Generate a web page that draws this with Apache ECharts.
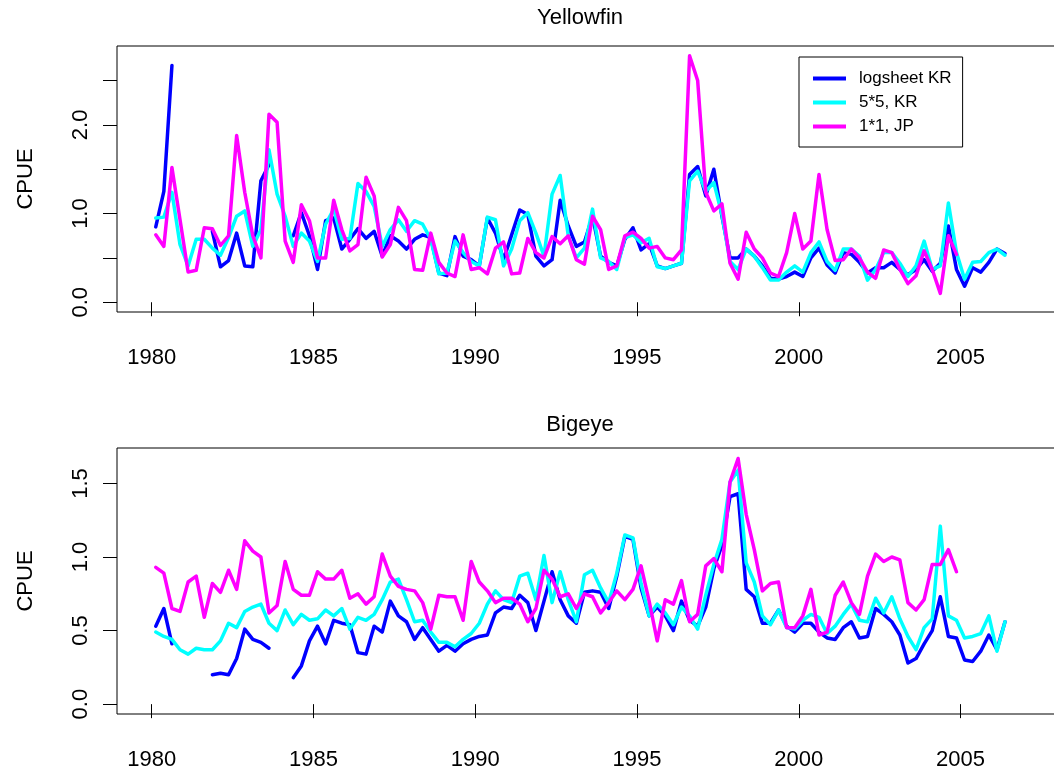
<!DOCTYPE html>
<html><head><meta charset="utf-8">
<script src="https://cdn.jsdelivr.net/npm/echarts@6/dist/echarts.min.js"></script>
<style>html,body{margin:0;padding:0;background:#fff;overflow:hidden;width:1054px;height:771px}#c{width:1200px;height:771px}</style>
</head><body><div id="c"></div><script>
// quarterly time index, 1980 Q1 .. 2006 Q2
const startYear = 1980, nQuarters = 106;
const xTicks = [1980, 1985, 1990, 1995, 2000, 2005];
const yTicksYF = [0, 0.5, 1, 1.5, 2, 2.5];
const yLabelsYF = [0, 1, 2];
const yTicksBE = [0, 0.5, 1, 1.5];
const yLabelsBE = [0, 0.5, 1, 1.5];
const seriesNames = ['logsheet KR', '5*5, KR', '1*1, JP'];
const colors = ['#0000ff', '#00ffff', '#ff00ff'];

// Yellowfin
const yfLogsheet = [0.85,1.25,2.67,null,null,null,null,0.80,0.40,0.47,
 0.78,0.41,0.40,1.37,1.55,null,null,0.75,1.01,0.75,
 0.37,0.92,0.95,0.60,0.71,0.83,0.72,0.80,0.52,0.75,
 0.69,0.60,0.71,0.76,0.73,0.33,0.30,0.74,0.52,0.48,
 0.41,0.95,0.78,0.48,0.76,1.04,0.99,0.52,0.41,0.48,
 1.15,0.86,0.63,0.68,0.97,0.52,0.45,0.41,0.71,0.84,
 0.59,0.66,0.41,0.38,0.41,0.44,1.44,1.53,1.20,1.50,
 0.97,0.50,0.50,0.60,0.52,0.41,0.27,0.26,0.29,0.34,
 0.29,0.50,0.61,0.42,0.33,0.56,0.54,0.45,0.33,0.39,
 0.39,0.45,0.37,0.31,0.37,0.48,0.35,0.44,0.86,0.37,
 0.18,0.39,0.34,0.45,0.60,0.55];
const yfGrid5KR = [0.95,0.96,1.24,0.65,0.41,0.71,0.71,0.61,0.53,0.73,
 0.97,1.03,0.63,0.82,1.72,1.22,0.97,0.63,0.78,0.69,
 0.46,0.88,1.05,0.71,0.72,1.34,1.25,1.08,0.63,0.82,
 0.93,0.80,0.92,0.88,0.71,0.32,0.33,0.69,0.56,0.46,
 0.41,0.96,0.93,0.41,0.60,0.92,1.01,0.78,0.52,1.22,
 1.43,0.75,0.50,0.61,1.05,0.50,0.46,0.37,0.73,0.76,
 0.67,0.72,0.40,0.38,0.41,0.44,1.37,1.48,1.25,1.35,
 0.99,0.46,0.37,0.60,0.52,0.39,0.25,0.25,0.34,0.41,
 0.34,0.56,0.68,0.46,0.36,0.60,0.60,0.52,0.25,0.37,
 0.56,0.56,0.44,0.29,0.41,0.69,0.37,0.41,1.12,0.56,
 0.26,0.45,0.46,0.56,0.60,0.53];
const yfGrid1JP = [0.76,0.63,1.52,0.93,0.34,0.36,0.84,0.83,0.64,0.75,
 1.88,1.24,0.75,0.50,2.12,2.03,0.69,0.45,1.10,0.92,
 0.50,0.50,1.15,0.82,0.58,0.65,1.41,1.20,0.51,0.65,
 1.07,0.92,0.37,0.36,0.78,0.45,0.33,0.29,0.76,0.37,
 0.39,0.32,0.61,0.68,0.32,0.33,0.72,0.56,0.50,0.74,
 0.66,0.75,0.48,0.43,0.97,0.82,0.37,0.41,0.75,0.79,
 0.72,0.61,0.63,0.50,0.48,0.59,2.78,2.50,1.24,1.03,
 1.11,0.44,0.26,0.79,0.60,0.50,0.33,0.29,0.56,1.00,
 0.60,0.69,1.44,0.82,0.47,0.48,0.60,0.50,0.34,0.27,
 0.59,0.56,0.37,0.21,0.30,0.58,0.37,0.10,0.75,0.54,
 null,null,null,null,null,null];

// Bigeye
const beLogsheet = [0.53,0.65,0.41,null,null,null,null,0.20,0.21,0.20,
 0.31,0.51,0.44,0.42,0.38,null,null,0.18,0.26,0.43,
 0.53,0.41,0.57,0.55,0.54,0.35,0.34,0.53,0.49,0.70,
 0.60,0.56,0.44,0.52,0.44,0.36,0.40,0.36,0.41,0.44,
 0.46,0.47,0.62,0.66,0.65,0.74,0.69,0.50,0.70,0.90,
 0.71,0.60,0.55,0.76,0.77,0.76,0.65,0.87,1.14,1.12,
 0.79,0.60,0.66,0.60,0.50,0.70,0.57,0.53,0.66,0.92,
 1.08,1.41,1.43,0.78,0.73,0.55,0.55,0.64,0.53,0.49,
 0.55,0.55,0.49,0.45,0.44,0.52,0.56,0.45,0.46,0.65,
 0.61,0.56,0.47,0.28,0.31,0.41,0.50,0.73,0.46,0.45,
 0.30,0.29,0.36,0.47,0.37,0.56];
const beGrid5KR = [0.49,0.46,0.44,0.37,0.34,0.38,0.37,0.37,0.43,0.55,
 0.52,0.63,0.66,0.68,0.55,0.50,0.64,0.54,0.61,0.57,
 0.58,0.64,0.60,0.65,0.51,0.59,0.57,0.61,0.71,0.83,
 0.85,0.71,0.56,0.57,0.49,0.42,0.42,0.39,0.44,0.48,
 0.55,0.68,0.77,0.71,0.69,0.87,0.89,0.71,1.01,0.69,
 0.90,0.71,0.56,0.88,0.91,0.79,0.69,0.89,1.15,1.13,
 0.82,0.60,0.68,0.62,0.54,0.66,0.60,0.51,0.74,0.95,
 1.12,1.51,1.59,0.96,0.83,0.60,0.54,0.64,0.52,0.51,
 0.57,0.61,0.59,0.48,0.53,0.61,0.68,0.57,0.56,0.72,
 0.62,0.73,0.58,0.46,0.37,0.52,0.58,1.21,0.60,0.57,
 0.45,0.46,0.48,0.60,0.36,0.56];
const beGrid1JP = [0.93,0.89,0.65,0.63,0.83,0.87,0.59,0.82,0.76,0.91,
 0.78,1.11,1.04,1.00,0.62,0.67,0.97,0.78,0.74,0.74,
 0.90,0.85,0.85,0.91,0.72,0.75,0.68,0.73,1.02,0.87,
 0.80,0.78,0.77,0.69,0.51,0.74,0.73,0.73,0.57,0.97,
 0.83,0.77,0.69,0.72,0.72,0.68,0.56,0.65,0.91,0.85,
 0.73,0.75,0.65,0.75,0.73,0.62,0.69,0.77,0.71,0.78,
 0.94,0.70,0.43,0.71,0.68,0.84,0.56,0.61,0.94,0.99,
 0.90,1.51,1.67,1.29,1.05,0.77,0.82,0.83,0.52,0.52,
 0.60,0.78,0.47,0.49,0.74,0.83,0.69,0.61,0.87,1.02,
 0.97,1.00,0.98,0.69,0.64,0.71,0.95,0.95,1.05,0.90,
 null,null,null,null,null,null];

const FONT = '"Liberation Sans", Arial, Helvetica, sans-serif';
const times = Array.from({length: nQuarters}, (_, i) => startYear + (i + 0.5) / 4);
const toData = arr => arr.map((v, i) => [times[i], v == null ? '-' : v]);

const panels = [
  {title: 'Yellowfin', top: 46, ymin: -0.11, ymax: 2.89, ticks: yTicksYF, labels: yLabelsYF,
   data: [yfLogsheet, yfGrid5KR, yfGrid1JP], titleY: 18},
  {title: 'Bigeye', top: 448, ymin: -0.067, ymax: 1.741, ticks: yTicksBE, labels: yLabelsBE,
   data: [beLogsheet, beGrid5KR, beGrid1JP], titleY: 425}
];

const grid = [], xAxis = [], yAxis = [], series = [], graphic = [];
panels.forEach((p, gi) => {
  grid.push({left: 117, top: p.top, width: 960, height: 266, show: true,
    borderColor: '#000', borderWidth: 1, backgroundColor: 'transparent'});
  xAxis.push({gridIndex: gi, type: 'value', min: 1978.927, max: 2008.60,
    axisLine: {show: false}, splitLine: {show: false},
    axisTick: {show: true, length: 14, customValues: xTicks, lineStyle: {color: '#000', width: 1}},
    axisLabel: {customValues: xTicks, fontSize: 22, color: '#000', margin: 35, fontFamily: FONT,
      formatter: v => String(v)}});
  yAxis.push({gridIndex: gi, type: 'value', min: p.ymin, max: p.ymax,
    axisLine: {show: false}, splitLine: {show: false},
    axisTick: {show: true, length: 14, customValues: p.ticks, lineStyle: {color: '#000', width: 1}},
    axisLabel: {customValues: p.labels, rotate: 90, fontSize: 22, color: '#000', margin: 25,
      fontFamily: FONT, formatter: v => Number(v).toFixed(1)},
    name: 'CPUE', nameLocation: 'middle', nameRotate: 90, nameGap: 80,
    nameTextStyle: {fontSize: 22, color: '#000', fontFamily: FONT}});
  p.data.forEach((arr, si) => {
    series.push({type: 'line', name: seriesNames[si], xAxisIndex: gi, yAxisIndex: gi,
      data: toData(arr), symbol: 'none', connectNulls: false,
      lineStyle: {color: colors[si], width: 3.5, cap: 'round', join: 'round'},
      itemStyle: {color: colors[si]}, z: 2 + si});
  });
  graphic.push({type: 'text', x: 580, y: p.titleY,
    style: {text: p.title, font: '22px ' + FONT, fill: '#000', textAlign: 'center', textVerticalAlign: 'middle'}});
});

const chart = echarts.init(document.getElementById('c'));
chart.setOption({
  animation: false,
  backgroundColor: '#fff',
  grid, xAxis, yAxis, series, graphic,
  legend: {data: seriesNames, orient: 'vertical', left: 799, top: 57,
    padding: [13, 11, 12, 14], itemWidth: 33, itemHeight: 4, itemGap: 7, icon: 'rect',
    borderColor: '#000', borderWidth: 1, backgroundColor: '#fff',
    textStyle: {fontSize: 17, lineHeight: 14, color: '#000', fontFamily: FONT, padding: [0, 0, 0, 8]}}
});
</script></body></html>
